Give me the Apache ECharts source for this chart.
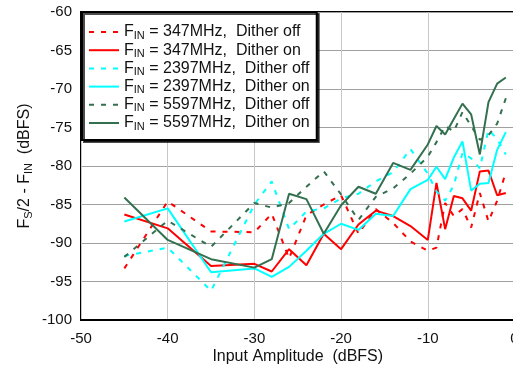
<!DOCTYPE html>
<html>
<head>
<meta charset="utf-8">
<script src="https://cdn.jsdelivr.net/npm/echarts@6/dist/echarts.min.js"></script>
<style>
html,body{margin:0;padding:0;background:#fff;}
#chart{width:513px;height:369px;}
</style>
</head>
<body>
<div id="chart"></div>
<script>
// Input amplitude (dBFS) sample points
const inputAmplitude = [-45,-40,-35,-30,-28,-26,-24,-22,-20,-18,-16,-14,-12,-10,-9,-8,-7,-6,-5,-4,-3,-2,-1];
// Fs/2 - Fin (dBFS)
const f347Off  = [-93.3,-84.6,-88.5,-88.6,-86.2,-92.0,-86.4,-85.0,-83.8,-88.8,-85.6,-87.4,-89.8,-91.0,-90.6,-84.8,-86.5,-85.6,-88.0,-83.5,-87.2,-84.5,-80.8];
const f347On   = [-86.3,-88.1,-93.0,-92.7,-93.7,-90.8,-92.9,-88.8,-90.8,-87.6,-85.8,-86.5,-87.8,-89.6,-82.2,-88.2,-83.9,-84.2,-85.8,-80.7,-80.6,-83.8,-83.5];
const f2397Off = [-91.7,-90.6,-96.2,-85.0,-82.0,-88.2,-85.9,-85.5,-84.2,-83.6,-82.0,-80.8,-77.8,-81.0,-83.3,-84.5,-82.5,-78.3,-79.0,-80.3,-75.3,-76.5,-78.5];
const f2397On  = [-87.2,-85.5,-93.8,-93.3,-94.4,-93.1,-91.0,-88.8,-87.5,-88.3,-86.2,-86.5,-83.0,-81.8,-80.1,-81.7,-78.9,-76.8,-83.2,-82.3,-82.2,-77.9,-75.6];
const f5597Off = [-91.8,-87.1,-90.5,-84.8,-85.4,-84.8,-82.7,-80.7,-83.7,-87.0,-84.0,-82.9,-81.0,-78.8,-76.9,-74.8,-75.5,-73.0,-74.8,-76.6,-76.0,-74.5,-71.2];
const f5597On  = [-84.1,-89.6,-92.1,-93.2,-92.1,-83.6,-84.3,-88.8,-85.1,-82.7,-83.6,-79.6,-80.5,-77.2,-74.8,-75.9,-73.9,-71.9,-73.3,-78.5,-71.7,-69.3,-68.5];

const seriesNames = [
  'F_IN = 347MHz,  Dither off',
  'F_IN = 347MHz,  Dither on',
  'F_IN = 2397MHz,  Dither off',
  'F_IN = 2397MHz,  Dither on',
  'F_IN = 5597MHz,  Dither off',
  'F_IN = 5597MHz,  Dither on'
];
const seriesData = [f347Off, f347On, f2397Off, f2397On, f5597Off, f5597On];
const seriesColors = ['#ff0000','#ff0000','#00ffff','#00ffff','#33704f','#33704f'];
const seriesDashed = [true,false,true,false,true,false];

const xTicks = {min:-50, max:0, interval:10};
const yTicks = {min:-100, max:-60, interval:5};

const FONT = 'Liberation Sans, Arial, sans-serif';

const chart = echarts.init(document.getElementById('chart'), null, {renderer:'canvas'});

const series = seriesNames.map((name, i) => ({
  name: name,
  type: 'line',
  data: inputAmplitude.map((x, k) => [x, seriesData[i][k]]),
  showSymbol: false,
  symbol: 'none',
  animation: false,
  color: seriesColors[i],
  itemStyle: {color: seriesColors[i]},
  lineStyle: {
    color: seriesColors[i],
    width: 2,
    type: seriesDashed[i] ? [5, 7] : 'solid'
  }
}));

const richStyles = {
  f: {fontSize: 16, lineHeight: 18, fontFamily: FONT, color: '#111'},
  s: {fontSize: 11, lineHeight: 11, verticalAlign: 'bottom', fontFamily: FONT, color: '#111'}
};

chart.setOption({
  animation: false,
  backgroundColor: '#fff',
  grid: {
    left: 81, right: -1.5, top: 12, bottom: 49,
    outerBoundsMode: 'none',
    containLabel: false,
    show: true, borderColor: '#000', borderWidth: 2, backgroundColor: 'transparent'
  },
  legend: {
    show: true,
    orient: 'vertical',
    left: 82, top: 12,
    itemWidth: 30, itemHeight: 14, itemGap: 1.2,
    padding: [12, 7, 8, 6],
    backgroundColor: '#fff',
    borderColor: '#000', borderWidth: 2,
    shadowColor: 'rgba(0,0,0,0.7)', shadowOffsetX: 2, shadowOffsetY: 2, shadowBlur: 0,
    itemStyle: {opacity: 0, borderWidth: 0},
    data: seriesNames.slice(),
    formatter: function (name) {
      const rest = name.replace('F_IN', '');
      return '{f|F}{s|IN}{f|' + rest + '}';
    },
    textStyle: {
      color: '#111',
      fontFamily: FONT,
      fontSize: 16,
      rich: richStyles
    }
  },
  xAxis: {
    type: 'value',
    min: xTicks.min, max: xTicks.max, interval: xTicks.interval,
    name: 'Input Amplitude  (dBFS)',
    nameLocation: 'middle',
    nameGap: 29,
    nameMoveOverlap: false,
    nameTextStyle: {fontSize: 16, fontFamily: FONT, color: '#111'},
    axisLine: {show: true, lineStyle: {color: '#000', width: 2}},
    axisTick: {show: false},
    axisLabel: {fontSize: 15, fontFamily: FONT, color: '#111', margin: 11},
    splitLine: {show: true, lineStyle: {color: '#c8c8c8', width: 1}}
  },
  yAxis: {
    type: 'value',
    min: yTicks.min, max: yTicks.max, interval: yTicks.interval,
    name: '{f|F}{s|S}{f|/2 - F}{s|IN}{f|  (dBFS)}',
    nameLocation: 'middle',
    nameGap: 47,
    nameRotate: 90,
    nameMoveOverlap: false,
    nameTextStyle: {
      fontFamily: FONT, color: '#111',
      rich: richStyles
    },
    axisLine: {show: true, lineStyle: {color: '#000', width: 2}},
    axisTick: {show: false},
    axisLabel: {fontSize: 15, fontFamily: FONT, color: '#111', margin: 9},
    splitLine: {show: true, lineStyle: {color: '#a0a0a0', width: 1}}
  },
  series: series
});
</script>
</body>
</html>
